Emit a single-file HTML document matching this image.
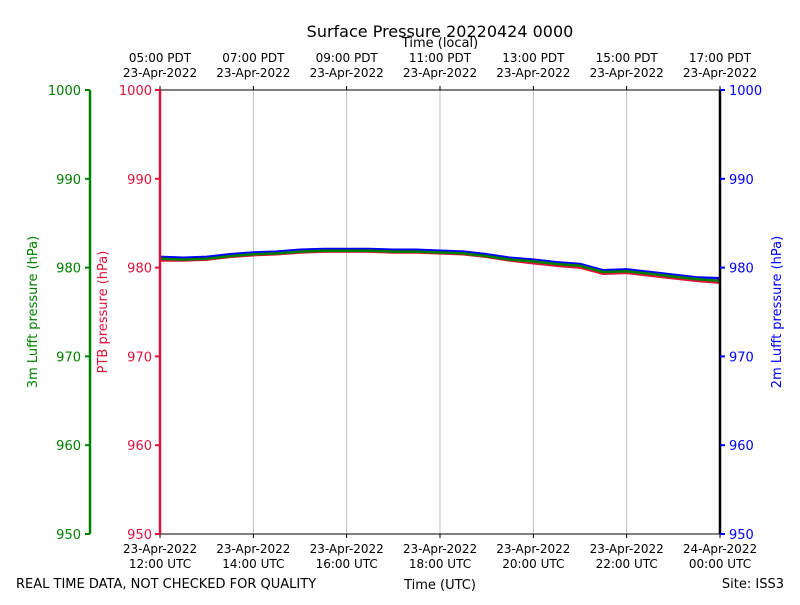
<!DOCTYPE html>
<html><head><meta charset="utf-8"><style>
body{margin:0;background:#fff;width:800px;height:600px;overflow:hidden}
svg{font-family:"DejaVu Sans","Liberation Sans",sans-serif}
</style></head><body>
<svg id="chart" width="800" height="600" xmlns="http://www.w3.org/2000/svg">
<text x="440" y="37" font-size="16" text-anchor="middle">Surface Pressure 20220424 0000</text>
<text x="440" y="47" font-size="13" text-anchor="middle">Time (local)</text>
<text x="440" y="589" font-size="13" text-anchor="middle">Time (UTC)</text>
<text x="16" y="588" font-size="13">REAL TIME DATA, NOT CHECKED FOR QUALITY</text>
<text x="784" y="588" font-size="13" text-anchor="end">Site: ISS3</text>
<g id="grid"></g><g id="series"></g><g id="axes"></g>
</svg>
<script>
const hours = [12,12.5,13,13.5,14,14.5,15,15.5,16,16.5,17,17.5,18,18.5,19,19.5,20,20.5,21,21.5,22,22.5,23,23.5,24];
const blueVals  = [981.2,981.1,981.2,981.5,981.7,981.8,982.0,982.1,982.1,982.1,982.0,982.0,981.9,981.8,981.5,981.1,980.9,980.6,980.4,979.7,979.8,979.5,979.2,978.9,978.8];
const greenVals = [981.0,980.9,981.0,981.3,981.5,981.6,981.8,981.9,981.9,981.9,981.8,981.8,981.7,981.6,981.3,980.9,980.7,980.4,980.2,979.5,979.6,979.3,979.0,978.7,978.5];
const redVals   = [980.8,980.8,980.9,981.2,981.4,981.5,981.7,981.8,981.8,981.8,981.7,981.7,981.6,981.5,981.2,980.8,980.5,980.2,980.0,979.3,979.4,979.1,978.8,978.5,978.3];
const yTicks = [950,960,970,980,990,1000];
const utcTicks = [12,14,16,18,20,22,24];
const utcLabels = [["23-Apr-2022","12:00 UTC"],["23-Apr-2022","14:00 UTC"],["23-Apr-2022","16:00 UTC"],["23-Apr-2022","18:00 UTC"],["23-Apr-2022","20:00 UTC"],["23-Apr-2022","22:00 UTC"],["24-Apr-2022","00:00 UTC"]];
const localLabels = [["05:00 PDT","23-Apr-2022"],["07:00 PDT","23-Apr-2022"],["09:00 PDT","23-Apr-2022"],["11:00 PDT","23-Apr-2022"],["13:00 PDT","23-Apr-2022"],["15:00 PDT","23-Apr-2022"],["17:00 PDT","23-Apr-2022"]];
const L=160,R=720,T=90,B=534;
const xs=h=>L+(h-12)/12*(R-L);
const ys=v=>B-(v-950)/50*(B-T);
const NS="http://www.w3.org/2000/svg";
function mk(p,tag,at){const e=document.createElementNS(NS,tag);for(const k in at)e.setAttribute(k,at[k]);p.appendChild(e);return e;}
const grid=document.getElementById('grid'),ser=document.getElementById('series'),ax=document.getElementById('axes');
utcTicks.forEach((h,i)=>{
  if(i>0&&i<utcTicks.length-1){const g=mk(grid,'line',{x1:xs(h),x2:xs(h),y1:T,y2:B,stroke:'#b0b0b0','stroke-width':0.8});
  
  }
  mk(ax,'line',{x1:xs(h),x2:xs(h),y1:B,y2:B+4,stroke:'#000'});
  mk(ax,'line',{x1:xs(h),x2:xs(h),y1:T,y2:T-4,stroke:'#000'});
  const t=mk(ax,'text',{x:xs(h),y:B+19,'font-size':12,'text-anchor':'middle'});
  
  
  t.innerHTML=`<tspan x="${xs(h)}">${utcLabels[i][0]}</tspan><tspan x="${xs(h)}" dy="15">${utcLabels[i][1]}</tspan>`;
  const u=mk(ax,'text',{x:xs(h),y:T-28,'font-size':12,'text-anchor':'middle'});
  
  
  u.innerHTML=`<tspan x="${xs(h)}">${localLabels[i][0]}</tspan><tspan x="${xs(h)}" dy="15">${localLabels[i][1]}</tspan>`;
});
function line(vals,col,name){const d=vals.map((v,i)=>(i?'L':'M')+xs(hours[i]).toFixed(1)+','+ys(v).toFixed(1)).join('');
  const p=mk(ser,'path',{d:d,fill:'none',stroke:col,'stroke-width':2.5,'stroke-linejoin':'round'});
  
  }
line(redVals,'#dc143c','ptb-series');line(blueVals,'#0000ff','lufft-2m-series');line(greenVals,'#008000','lufft-3m-series');
mk(ax,'line',{x1:L,x2:R,y1:T,y2:T,stroke:'#000','stroke-width':1});
mk(ax,'line',{x1:L,x2:R,y1:B,y2:B,stroke:'#000','stroke-width':1});
mk(ax,'line',{x1:L,x2:L,y1:T,y2:B,stroke:'#dc143c','stroke-width':2.5});
mk(ax,'line',{x1:R,x2:R,y1:T,y2:B,stroke:'#000','stroke-width':2.5});
mk(ax,'line',{x1:90,x2:90,y1:T,y2:B,stroke:'#008000','stroke-width':2.5});
yTicks.forEach(v=>{const y=ys(v);
  mk(ax,'line',{x1:L-5,x2:L,y1:y,y2:y,stroke:'#dc143c','stroke-width':2});
  mk(ax,'line',{x1:R,x2:R+5,y1:y,y2:y,stroke:'#0000ff','stroke-width':2});
  mk(ax,'line',{x1:85,x2:90,y1:y,y2:y,stroke:'#008000','stroke-width':2});
  const a=mk(ax,'text',{x:L-8,y:y+5,'font-size':13,'text-anchor':'end',fill:'#dc143c'});a.textContent=v;
  
  
  const b=mk(ax,'text',{x:R+9,y:y+5,'font-size':13,fill:'#0000ff'});b.textContent=v;
  
  
  const c=mk(ax,'text',{x:81,y:y+5,'font-size':13,'text-anchor':'end',fill:'#008000'});c.textContent=v;
  
  
});
function ylab(x,txt,col,name){const t=mk(ax,'text',{x:x,y:312,'font-size':13,'text-anchor':'middle',fill:col,transform:`rotate(-90 ${x} 312)`});t.textContent=txt;
  
  }
ylab(37,'3m Lufft pressure (hPa)','#008000','lufft-3m-axis-title');
ylab(107,'PTB pressure (hPa)','#dc143c','ptb-axis-title');
ylab(781,'2m Lufft pressure (hPa)','#0000ff','lufft-2m-axis-title');
</script>
</body></html>
